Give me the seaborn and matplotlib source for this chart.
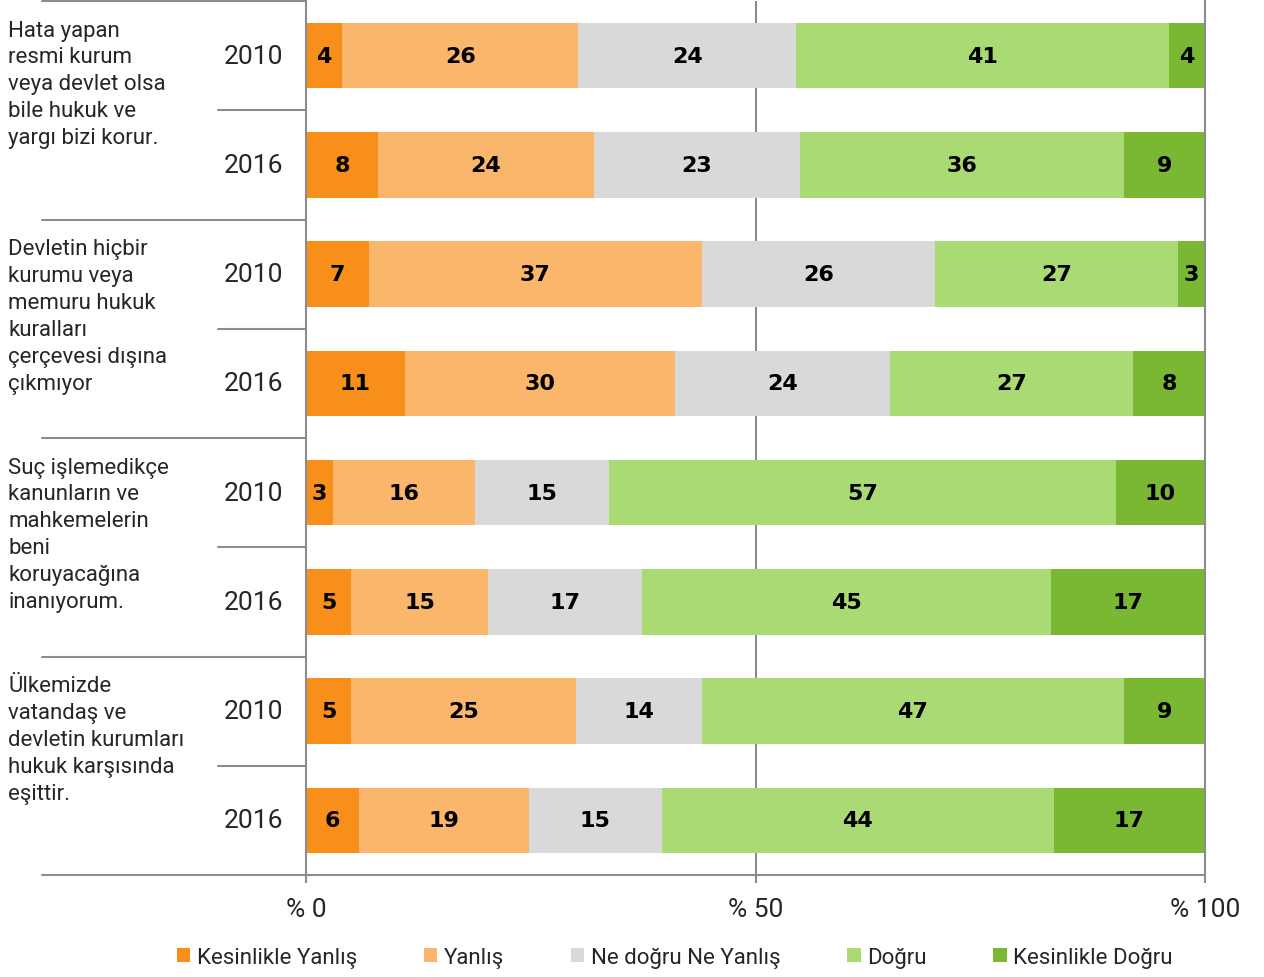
import numpy as np
import pandas as pd
import matplotlib.pyplot as plt
import seaborn as sns
from matplotlib.lines import Line2D
from matplotlib.patches import Patch
from matplotlib.transforms import blended_transform_factory

# Survey statements (left labels) and years
questions = [
    "Hata yapan\nresmi kurum\nveya devlet olsa\nbile hukuk ve\nyargı bizi korur.",
    "Devletin hiçbir\nkurumu veya\nmemuru hukuk\nkuralları\nçerçevesi dışına\nçıkmıyor",
    "Suç işlemedikçe\nkanunların ve\nmahkemelerin\nbeni\nkoruyacağına\ninanıyorum.",
    "Ülkemizde\nvatandaş ve\ndevletin kurumları\nhukuk karşısında\neşittir.",
]
years = ["2010", "2016"]
categories = ["Kesinlikle Yanlış", "Yanlış", "Ne doğru Ne Yanlış", "Doğru", "Kesinlikle Doğru"]
colors = ["#F98F1B", "#FAB66A", "#D9D9D9", "#A9DA74", "#7AB833"]

# Values per bar, top to bottom (q1-2010, q1-2016, q2-2010, ...)
kesinlikle_yanlis = [4, 8, 7, 11, 3, 5, 5, 6]
yanlis = [26, 24, 37, 30, 16, 15, 25, 19]
ne_dogru_ne_yanlis = [24, 23, 26, 24, 15, 17, 14, 15]
dogru = [41, 36, 27, 27, 57, 45, 47, 44]
kesinlikle_dogru = [4, 9, 3, 8, 10, 17, 9, 17]

rows = [f"r{i}" for i in range(8)]
df = pd.DataFrame({
    "row": rows,
    categories[0]: kesinlikle_yanlis,
    categories[1]: yanlis,
    categories[2]: ne_dogru_ne_yanlis,
    categories[3]: dogru,
    categories[4]: kesinlikle_dogru,
})

# 100% stacked: normalise each bar, then cumulative sums
vals = df[categories].to_numpy(dtype=float)
pct = vals / vals.sum(axis=1, keepdims=True) * 100
cum = np.cumsum(pct, axis=1)
for j, c in enumerate(categories):
    df["cum_" + c] = cum[:, j]

sns.set_style("white")
plt.rcParams["font.family"] = ["Roboto", "DejaVu Sans"]

fig = plt.figure(figsize=(12.64, 9.78), dpi=100)
ax = fig.add_axes([306 / 1264, 1 - 876 / 978, (1205 - 306) / 1264, 874 / 978])

# draw from the longest layer back to the shortest
for j in reversed(range(len(categories))):
    sns.barplot(data=df, x="cum_" + categories[j], y="row", order=rows, orient="h",
                color=colors[j], width=0.6, linewidth=0, saturation=1, ax=ax)

# labels in the middle of each segment
for i in range(8):
    for j in range(len(categories)):
        mid = cum[i, j] - pct[i, j] / 2
        ax.text(mid, i, str(int(vals[i, j])), ha="center", va="center",
                fontsize=16, fontweight="bold", color="black",
                family="DejaVu Sans")

ax.set_xlim(0, 100)
ax.set_ylim(7.5, -0.5)
ax.set_xlabel("")
ax.set_ylabel("")
ax.set_yticks([])
ax.set_xticks([0, 50, 100])
ax.set_xticklabels(["% 0", "% 50", "% 100"], fontsize=19)
ax.tick_params(axis="x", length=6, width=1.5, color="#8c8c8c", pad=10, bottom=True)
ax.axvline(50, color="#8c8c8c", lw=1.5, zorder=0)

gray = "#8c8c8c"
for side in ["top", "bottom"]:
    ax.spines[side].set_visible(False)
for side in ["left", "right"]:
    ax.spines[side].set_color(gray)
    ax.spines[side].set_linewidth(1.5)

# separator lines on the left side
tr = blended_transform_factory(fig.transFigure, ax.transData)
for b in [-0.5, 1.5, 3.5, 5.5]:
    fig.add_artist(Line2D([42 / 1264, 306 / 1264], [b, b], transform=tr, color=gray, lw=1.5))
for b in [0.5, 2.5, 4.5, 6.5]:
    fig.add_artist(Line2D([218 / 1264, 306 / 1264], [b, b], transform=tr, color=gray, lw=1.5))
fig.add_artist(Line2D([42 / 1264, 1205 / 1264], [7.5, 7.5], transform=tr, color=gray, lw=1.5))

# year labels and statement texts
for i in range(8):
    ax.text(283 / 1264, i, years[i % 2], transform=tr, ha="right", va="center", fontsize=19)
for g, q in enumerate(questions):
    ax.text(8 / 1264, 2 * g - 0.5 + 0.17, q, transform=tr, ha="left", va="top",
            fontsize=16, linespacing=1.37)

handles = [Patch(facecolor=c, edgecolor="none", label=l) for c, l in zip(colors, categories)]
fig.legend(handles=handles, loc="center", bbox_to_anchor=(0.534, 0.02), ncol=5, frameon=False,
           fontsize=16, handlelength=0.6, handleheight=0.6, handletextpad=0.3, columnspacing=3.0)

fig.savefig("out.png", dpi=100)
